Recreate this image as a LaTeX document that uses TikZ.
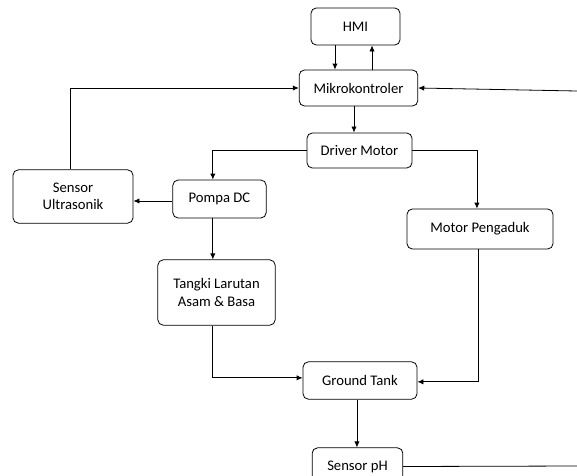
\documentclass[tikz,border=0pt]{standalone}
\usepackage{fontspec}
\setmainfont{Carlito}
\usetikzlibrary{arrows.meta}

\begin{document}
\begin{tikzpicture}[
		x=0.75pt, y=-0.75pt,
		line width=0.6pt,
		>={Latex[length=4.5pt,width=4pt]},
		every node/.style={font=\fontsize{11}{13}\selectfont},
		box/.style={draw,rounded corners=4pt,align=center,inner sep=2pt}
	]
		\useasboundingbox (0,0) rectangle (577,475);
		\clip (0,0) rectangle (577,475);

		% Boxes
		\node[box, minimum width=66.8pt, minimum height=27.8pt] (hmi) at (355.5, 26.5) {HMI};
		\node[box, minimum width=89pt, minimum height=27pt] (mikro) at (358.5, 88) {Mikrokontroler};
		\node[box, minimum width=78.8pt, minimum height=26.3pt] (driver) at (359.5, 150.5) {Driver Motor};
		\node[box, minimum width=90pt, minimum height=40pt] (ultra) at (73, 196.5) {Sensor\\Ultrasonik};
		\node[box, minimum width=70pt, minimum height=28.5pt] (pompa) at (219.5, 199) {Pompa DC};
		\node[box, minimum width=88pt, minimum height=49pt] (tangki) at (216.5, 292.5) {Tangki Larutan\\Asam \& Basa};
		\node[box, minimum width=109.5pt, minimum height=30pt] (pengaduk) at (480, 229) {Motor Pengaduk};
		\node[box, minimum width=85.5pt, minimum height=28pt] (ground) at (360, 380.5) {Ground Tank};
		\node[box, minimum width=68pt, minimum height=28pt] (ph) at (357.5, 466.5) {Sensor pH};

		% Free ends at the right edge
		\coordinate (phout) at (577, 466);
		\coordinate (fbin) at (577, 91);

		% Arrows
		\draw[->] ([xshift=-15.4pt]hmi.south) -- ([xshift=-15.4pt]hmi.south |- mikro.north);
		\draw[->] ([xshift=12.4pt]hmi.south |- mikro.north) -- ([xshift=12.4pt]hmi.south);
		\draw[->] ([xshift=-3.4pt]mikro.south) -- ([xshift=-3.4pt]mikro.south |- driver.north);
		\draw[->] ([xshift=-2pt]ultra.north) |- (mikro.west);
		\draw[->] (fbin) -- (mikro.east);
		\draw[->] (driver.west) -| ([xshift=-5pt]pompa.north);
		\draw[->] (driver.east) -| ([xshift=-2.3pt]pengaduk.north);
		\draw[->] ([yshift=-1.5pt]pompa.west) -- ([yshift=-1.5pt]pompa.west -| ultra.east);
		\draw[->] ([xshift=-5pt]pompa.south) -- ([xshift=-5pt]pompa.south |- tangki.north);
		\draw[->] ([xshift=-3.4pt]tangki.south) |- ([yshift=2pt]ground.west);
		\draw[->] ([xshift=-1pt]pengaduk.south) |- ([yshift=-1pt]ground.east);
		\draw[->] ([xshift=-2.3pt]ground.south) -- ([xshift=-2.3pt]ground.south |- ph.north);
		\draw (ph.east) -- (phout);
	\end{tikzpicture}
\end{document}
